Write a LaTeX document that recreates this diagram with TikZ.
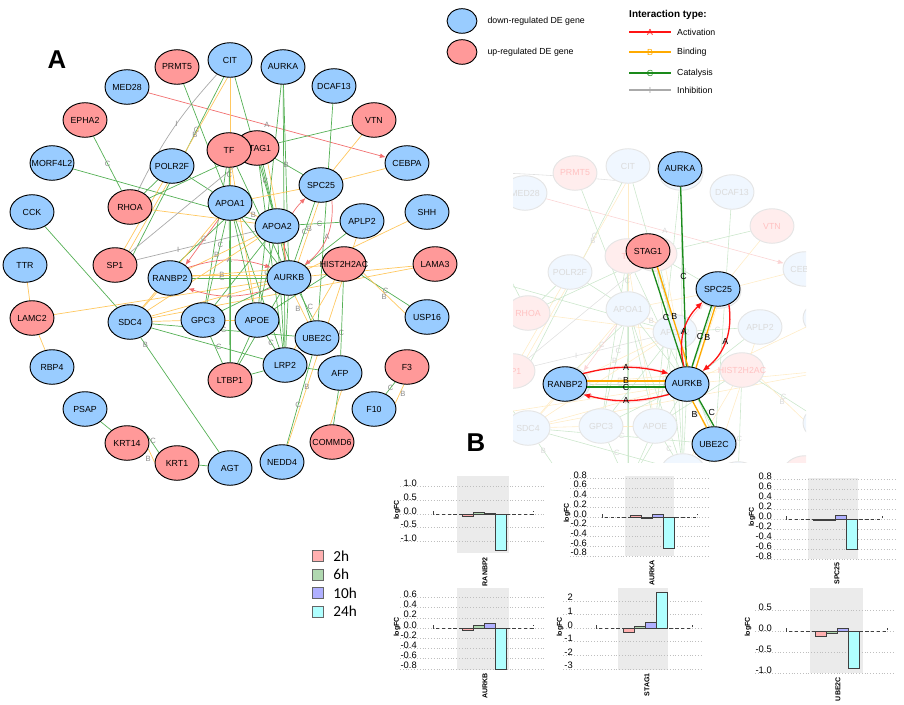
\documentclass[tikz,border=0pt]{standalone}
\usepackage{fontspec}
\setmainfont{Liberation Sans}
\newfontfamily\calibrifont{Carlito}
\usetikzlibrary{shapes.geometric, arrows.meta, positioning}

\definecolor{downblue}{HTML}{99CCFF}
\definecolor{uppink}{HTML}{FF9999}
\definecolor{actred}{HTML}{F27070}
\definecolor{bindorange}{HTML}{FFC860}
\definecolor{catgreen}{HTML}{55B055}
\definecolor{inhgray}{HTML}{AAAAAA}
\definecolor{subred}{HTML}{FF1414}
\definecolor{suborange}{HTML}{FFAA00}
\definecolor{subgreen}{HTML}{1A8A1A}
\definecolor{c2h}{HTML}{FFB0B0}
\definecolor{c6h}{HTML}{B0D8B0}
\definecolor{c10h}{HTML}{B0B0FF}
\definecolor{c24h}{HTML}{B0FFFF}
\definecolor{panelgray}{HTML}{EBEBEB}

\tikzset{
  gene/.style={ellipse, draw=black, line width=0.8pt, minimum width=37.5pt,
    minimum height=29.5pt, inner xsep=-12pt, inner ysep=0pt,
    font=\fontsize{7.5}{8}\selectfont},
  downgene/.style={gene, fill=downblue},
  upgene/.style={gene, fill=uppink},
  phantom/.style={draw=none, fill=none, text opacity=0},
  act/.style={draw=actred, line width=0.6pt, -{Latex[length=5pt, width=4pt]}},
  bind/.style={draw=bindorange, line width=0.6pt},
  cat/.style={draw=catgreen, line width=0.6pt},
  inh/.style={draw=inhgray, line width=0.6pt},
  elab/.style={font=\fontsize{6.5}{7}\selectfont, text=black!45, inner sep=0.3pt},
  sact/.style={draw=subred, line width=1.1pt, -{Latex[length=6pt, width=5pt]}},
  sbind/.style={draw=suborange, line width=1.1pt},
  scat/.style={draw=subgreen, line width=1.1pt},
  selab/.style={font=\fontsize{7.5}{8}\selectfont, text=black, inner sep=0.3pt},
  legtext/.style={font=\fontsize{7.5}{8}\selectfont, inner sep=0pt, anchor=west},
  panel/.style={font=\fontsize{22}{22}\selectfont\bfseries, inner sep=0pt},
  tbox/.style={draw=black!60, line width=0.5pt, minimum size=9.5pt, inner sep=0pt},
  tlab/.style={font=\calibrifont\fontsize{13}{13}\selectfont, inner sep=0pt},
  fcgrid/.style={draw=black!25, dotted, line width=0.4pt},
  fczero/.style={draw=black!75, densely dashed, line width=0.5pt},
  fcbar/.style={draw=black!75, line width=0.5pt},
  fctick/.style={anchor=base east, font=\fontsize{8}{8}\selectfont, inner sep=0pt},
  fcaxis/.style={rotate=90, font=\fontsize{6}{6}\selectfont\bfseries, inner sep=0pt},
  fcgene/.style={rotate=90, anchor=east, font=\fontsize{6}{6}\selectfont\bfseries, inner sep=0pt},
}

% all genes of the network, #1 = extra style
\newcommand{\genelayout}[1]{%
  \node[upgene,#1]   (PRMT5)   at (177,67)  {PRMT5};
  \node[downgene,#1] (CIT)     at (230,60)  {CIT};
  \node[downgene,#1] (AURKA)   at (283,67)  {AURKA};
  \node[downgene,#1] (MED28)   at (127,87)  {MED28};
  \node[downgene,#1] (DCAF13)  at (334,86)  {DCAF13};
  \node[upgene,#1]   (EPHA2)   at (85,120)  {EPHA2};
  \node[upgene,#1]   (VTN)     at (374,120) {VTN};
  \node[downgene,#1] (MORF4L2) at (52,163)  {MORF4L2};
  \node[downgene,#1] (POLR2F)  at (172,166) {POLR2F};
  \node[upgene,#1]   (STAG1)   at (257,148) {STAG1};
  \node[upgene,#1]   (TF)      at (229,150) {TF};
  \node[downgene,#1] (CEBPA)   at (407,163) {CEBPA};
  \node[downgene,#1] (CCK)     at (32,212)  {CCK};
  \node[upgene,#1]   (RHOA)    at (130,207) {RHOA};
  \node[downgene,#1] (APOA1)   at (230,203) {APOA1};
  \node[downgene,#1] (SPC25)   at (321,185) {SPC25};
  \node[downgene,#1] (APOA2)   at (277,226) {APOA2};
  \node[downgene,#1] (APLP2)   at (362,221) {APLP2};
  \node[downgene,#1] (SHH)     at (427,212) {SHH};
  \node[downgene,#1] (TTR)     at (25,265)  {TTR};
  \node[upgene,#1]   (SP1)     at (115,265) {SP1};
  \node[downgene,#1] (RANBP2)  at (170,278) {RANBP2};
  \node[downgene,#1] (AURKB)   at (289,278) {AURKB};
  \node[upgene,#1]   (HIST2H2AC) at (344,264) {HIST2H2AC};
  \node[upgene,#1]   (LAMA3)   at (435,264) {LAMA3};
  \node[upgene,#1]   (LAMC2)   at (32,318)  {LAMC2};
  \node[downgene,#1] (SDC4)    at (130,322) {SDC4};
  \node[downgene,#1] (GPC3)    at (203,320) {GPC3};
  \node[downgene,#1] (APOE)    at (257,320) {APOE};
  \node[downgene,#1] (USP16)   at (427,317) {USP16};
  \node[downgene,#1] (UBE2C)   at (317,338) {UBE2C};
  \node[downgene,#1] (LRP2)    at (285,365) {LRP2};
  \node[downgene,#1] (AFP)     at (340,373) {AFP};
  \node[upgene,#1]   (LTBP1)   at (230,380) {LTBP1};
  \node[upgene,#1]   (F3)      at (407,367) {F3};
  \node[downgene,#1] (RBP4)    at (52,367)  {RBP4};
  \node[downgene,#1] (PSAP)    at (85,409)  {PSAP};
  \node[downgene,#1] (F10)     at (374,409) {F10};
  \node[upgene,#1]   (COMMD6)  at (332,442) {COMMD6};
  \node[upgene,#1]   (KRT14)   at (127,443) {KRT14};
  \node[upgene,#1]   (KRT1)    at (177,463) {KRT1};
  \node[downgene,#1] (AGT)     at (230,468) {AGT};
  \node[downgene,#1] (NEDD4)   at (282,462) {NEDD4};
}

% all interactions of the network
\newcommand{\geneedges}{%
  % outer genes
  \draw[act] (MED28) -- node[elab]{A} (CEBPA);
  \draw[inh] (CIT) to[bend right=8] node[elab, pos=0.45]{I} (RHOA);
  \draw[cat] (CIT.250) -- node[elab, pos=0.3]{C} (SP1.30);
  \draw[bind] (CIT.262) -- node[elab, pos=0.33]{B} (SP1.45);
  \draw[cat] (CIT) -- (APOA2);
  \draw[bind] (CIT) -- (APOA1);
  \draw[cat] (PRMT5) -- (APOA1);
  \draw[cat] (EPHA2) -- node[elab]{C} (RHOA);
  \draw[cat] (MORF4L2) -- node[elab, pos=0.8]{C} (APOA2);
  \draw[cat] (CCK) -- (SDC4);
  \draw[cat] (POLR2F) -- (APOA1);
  \draw[cat] (POLR2F) -- (RHOA);
  \draw[bind] (POLR2F) -- (SP1);
  \draw[cat] (RHOA) -- (STAG1);
  \draw[bind] (RHOA) -- (APOA2);
  \draw[inh] (SP1) -- node[elab, pos=0.35]{I} (APOA2);
  \draw[inh] (SP1) -- (STAG1);
  \draw[bind] (TTR) -- (LAMC2);
  \draw[bind] (LAMC2) -- (RBP4);
  \draw[bind] (LAMC2) -- (AURKB);
  \draw[cat] (PSAP) -- (KRT14);
  \draw[cat] (KRT14.20) -- node[elab, above]{C} (KRT1.150);
  \draw[bind] (KRT14.-15) -- node[elab, below left]{B} (KRT1.178);
  \draw[cat] (KRT1) -- (AGT);
  \draw[cat] (SDC4) -- node[elab, pos=0.06]{B} (AGT);
  \draw[cat] (VTN) -- (STAG1);
  \draw[bind] (VTN) -- (SPC25);
  \draw[bind] (CEBPA) -- (SPC25);
  \draw[cat] (DCAF13) -- (UBE2C);
  \draw[cat] (AURKA) -- (AURKB);
  \draw[cat] (AURKA) -- (LRP2);
  \draw[cat] (AURKA) -- (APOE);
  \draw[bind] (SHH) -- (AURKB);
  \draw[bind] (LAMA3) -- (AURKB);
  \draw[bind] (LAMA3) -- (SDC4);
  \draw[cat] (USP16) -- node[elab]{C} (HIST2H2AC);
  \draw[bind] (USP16.170) -- node[elab, below]{B} (HIST2H2AC.-25);
  \draw[cat] (F3) -- node[elab]{C} (F10);
  \draw[bind] (F3.-100) -- node[elab, right]{B} (F10.15);
  \draw[cat] (AFP.-95) -- (COMMD6.85);
  \draw[bind] (AFP.-85) -- (COMMD6.95);
  \draw[cat] (AFP) -- node[elab, pos=0.3]{C} (HIST2H2AC);
  \draw[cat] (UBE2C) -- node[elab, pos=0.55]{C} (NEDD4);
  \draw[bind] (APLP2) -- node[elab, pos=0.72]{B} (NEDD4);
  % dense centre
  \draw[cat] (TF) -- node[elab, pos=0.4]{C} (APOA1);
  \draw[cat] (TF) -- (LTBP1);
  \draw[cat] (TF) -- (GPC3);
  \draw[cat] (TF) -- (AURKB);
  \draw[bind] (TF) -- (APOE);
  \draw[cat] (STAG1) -- node[elab, pos=0.4]{B} (SPC25);
  \draw[cat] (STAG1) -- node[elab, pos=0.35]{C} (APOA2);
  \draw[cat] (STAG1.-70) -- (AURKB);
  \draw[bind] (STAG1.-55) -- (AURKB);
  \draw[cat] (STAG1) -- (LRP2);
  \draw[cat] (APOA1) -- node[elab, pos=0.3]{C} (GPC3);
  \draw[cat] (APOA1) -- (APOE);
  \draw[cat] (APOA1) -- (LRP2);
  \draw[bind] (APOA1) -- node[elab]{B} (APOA2);
  \draw[cat] (APOA1.250) -- node[elab, pos=0.45]{C} (RANBP2.60);
  \draw[act] (APOA1.235) -- (RANBP2.40);
  \draw[bind] (APOA1) -- (SDC4);
  \draw[cat] (APOA1) -- (AURKB);
  \draw[bind] (APOA1) -- (SPC25);
  \draw[cat] (APOA2) -- (LRP2);
  \draw[cat] (APOA2) -- node[elab, pos=0.4]{C} (UBE2C);
  \draw[cat] (APOA2) -- (GPC3);
  \draw[bind] (APOA2) -- node[elab, pos=0.6]{B} (RANBP2);
  \draw[cat] (APOA2) -- node[elab]{C} (APOE);
  \draw[cat] (APLP2) -- node[elab]{C} (APOA2);
  \draw[cat] (APLP2) -- (AURKB);
  \draw[cat] (RANBP2) -- node[elab, pos=0.4]{C} (AURKB);
  \draw[bind] (RANBP2.8) -- node[elab, pos=0.4]{B} (AURKB.172);
  \draw[act] (RANBP2.30) to[bend left=18] node[elab]{A} (AURKB.150);
  \draw[act] (AURKB.-150) to[bend left=18] node[elab]{A} (RANBP2.-30);
  \draw[cat] (SPC25.-110) -- node[elab, pos=0.5]{C} (AURKB.72);
  \draw[bind] (SPC25.-98) -- node[elab, pos=0.45]{B} (AURKB.60);
  \draw[act] (AURKB.100) to[bend left=28] (SPC25.-140);
  \draw[act] (SPC25.-55) to[bend left=28] node[elab]{A} (AURKB.40);
  \draw[cat] (AURKB.-55) -- node[elab, right]{C} (UBE2C.100);
  \draw[bind] (AURKB.-72) -- node[elab, left]{B} (UBE2C.120);
  \draw[cat] (GPC3) -- (AURKB);
  \draw[cat] (GPC3) -- (LTBP1);
  \draw[bind] (GPC3) -- (APOE);
  \draw[cat] (APOE) -- (LTBP1);
  \draw[cat] (APOE) -- node[elab]{C} (LRP2);
  \draw[cat] (LTBP1) -- (LRP2);
  \draw[cat] (LTBP1) -- (AURKB);
  \draw[cat] (LTBP1) -- (APOA1);
  \draw[cat] (LRP2) -- (AURKB);
  \draw[cat] (LRP2) -- (AFP);
  \draw[bind] (LRP2) -- (HIST2H2AC);
  \draw[cat] (HIST2H2AC) -- (APOE);
  \draw[bind] (HIST2H2AC) -- (RANBP2);
  \draw[cat] (SDC4) -- node[elab, pos=0.6]{C} (LRP2);
  \draw[cat] (SDC4) -- node[elab, pos=0.5]{C} (UBE2C);
  \draw[bind] (SDC4) -- (RANBP2);
  \draw[bind] (SDC4) -- (GPC3);
  \draw[bind] (SDC4) -- (APOA2);
  \draw[bind] (SDC4) -- (AURKB);
}

% four logFC bars (2h, 6h, 10h, 24h), heights in pixels
\newcommand{\fcbars}[4]{%
  \foreach \h/\c [count=\i from 0] in {#1/c2h, #2/c6h, #3/c10h, #4/c24h}
    \draw[fcbar, fill=\c] ({5+11*\i},0) rectangle ({16+11*\i},\h);
}
\newcommand{\fczeroline}[2]{\draw[fczero] (#1,-3) -- (#1,0) -- (#2,0) -- (#2,-3);}

\begin{document}
\begin{tikzpicture}[x=0.03cm, y=-0.03cm]
\useasboundingbox (0,0) rectangle (904,704);

% panel letters
\node[panel] (labA) at (57,60) {A};
\node[panel] (labB) at (476,443) {B};

% gene legend
\node[gene, fill=downblue, minimum width=25.5pt, minimum height=21pt] (legDown) at (462,21) {};
\node[gene, fill=uppink, minimum width=25.5pt, minimum height=21pt] (legUp) at (462,52) {};
\node[legtext, right=8.5pt of legDown] (legDownText) {down-regulated DE gene};
\node[legtext, right=8.5pt of legUp] (legUpText) {up-regulated DE gene};

% interaction legend
\node[legtext, font=\fontsize{8.5}{9}\selectfont\bfseries] (legTitle) at (629,15) {Interaction type:};
\foreach \col/\lt/\name/\yy in {subred/A/Activation/32, suborange/B/Binding/52,
    subgreen/C/Catalysis/73, inhgray/I/Inhibition/90}{
  \draw[\col, line width=0.9pt] (629,\yy) -- node[selab, text=\col]{\lt} (671,\yy);
  \node[legtext] (leg\name) at (677,\yy) {\name};
}

% time legend
\foreach \c/\t [count=\k from 0] in {c2h/2h, c6h/6h, c10h/10h, c24h/24h}{
  \node[tbox, fill=\c] (sq\t) at (318,{556+18.5*\k}) {};
  \node[tlab, anchor=west, right=8pt of sq\t] (lab\t) {\t};
}

% network A
\genelayout{phantom}
\geneedges
\genelayout{}

% faded copy of the network behind the zoomed part
\begin{scope}
  \clip (513,142) rectangle (806,462);
  \begin{scope}[shift={(398,106)}, name prefix=g,
      cat/.style={draw=catgreen!30, line width=0.5pt},
      bind/.style={draw=bindorange!35, line width=0.5pt},
      inh/.style={draw=inhgray!35, line width=0.5pt},
      act/.style={draw=actred!30, line width=0.5pt, -{Latex[length=5pt, width=4pt]}},
      elab/.style={font=\fontsize{6.5}{7}\selectfont, text=black!15, inner sep=0.3pt},
      downgene/.append style={fill=downblue!15, draw=black!10, text=black!14},
      upgene/.append style={fill=uppink!18, draw=black!10, text=uppink!60}]
    \genelayout{phantom}
    \geneedges
    \genelayout{}
  \end{scope}
\end{scope}

% zoomed sub-network
\node[downgene] (sAURKA) at (680,169) {AURKA};
\node[upgene] (sSTAG1) at (648,251) {STAG1};
\node[downgene] (sSPC25) at (718,289) {SPC25};
\node[downgene] (sRANBP2) at (565,384) {RANBP2};
\node[downgene] (sAURKB) at (687,384) {AURKB};
\node[downgene] (sUBE2C) at (714,444) {UBE2C};

\draw[scat] (sAURKA) -- node[selab, pos=0.5]{C} (sAURKB);
\draw[scat] (sSTAG1.-77) -- node[selab, pos=0.5, xshift=-1.5pt]{C} (sAURKB.101);
\draw[sbind] (sSTAG1.-60) -- node[selab, pos=0.5, xshift=1.5pt]{B} (sAURKB.87);
\draw[scat] (sAURKB.74) -- node[selab, pos=0.5, xshift=-1.5pt]{C} (sSPC25.-111);
\draw[sbind] (sAURKB.61) -- node[selab, pos=0.5, xshift=1.5pt]{B} (sSPC25.-99);
\draw[sact] (sAURKB.100) to[bend left=30] node[selab]{A} (sSPC25.-140);
\draw[sact] (sSPC25.-55) to[bend left=30] node[selab]{A} (sAURKB.40);
\draw[sact] (sRANBP2.30) to[bend left=14] node[selab]{A} (sAURKB.150);
\draw[sact] (sAURKB.-150) to[bend left=14] node[selab]{A} (sRANBP2.-30);
\draw[sbind] (sRANBP2.8) -- node[selab]{B} (sAURKB.172);
\draw[scat] (sRANBP2.-8) -- node[selab]{C} (sAURKB.188);
\draw[sbind] (sAURKB.-72) -- node[selab, left=1pt]{B} (sUBE2C.114);
\draw[scat] (sAURKB.-52) -- node[selab, right=1pt]{C} (sUBE2C.90);

% logFC bar charts
\begin{scope}[shift={(457,514)}]
  \fill[panelgray] (0,-38) rectangle (52,39);
  \foreach \yy/\lab in {-27.4/1.0, -13.7/0.5, 0/0.0, 13.7/-0.5, 27.4/-1.0}{
    \draw[fcgrid] (-57,\yy) -- (88,\yy);
    \node[fctick] at (-40,\yy) {\lab};
  }
  \fczeroline{-24}{76}
  \fcbars{2}{-2}{-1}{36}
  \node[fcaxis] (yRANBP2) at (-60,-4) {logFC};
  \node[fcgene] (xRANBP2) at (28,43) {RANBP2};
\end{scope}

\begin{scope}[shift={(625,517)}]
  \fill[panelgray] (0,-41) rectangle (49,39);
  \foreach \yy/\lab in {-38.8/0.8, -29.1/0.6, -19.4/0.4, -9.7/0.2, 0/0.0,
      9.7/-0.2, 19.4/-0.4, 29.1/-0.6, 38.8/-0.8}{
    \draw[fcgrid] (-55,\yy) -- (85,\yy);
    \node[fctick] at (-38,\yy) {\lab};
  }
  \fczeroline{-23}{72}
  \fcbars{-2}{1}{-3}{31}
  \node[fcaxis] (yAURKA) at (-58,-4) {logFC};
  \node[fcgene] (xAURKA) at (27,43) {AURKA};
\end{scope}

\begin{scope}[shift={(808,519)}]
  \fill[panelgray] (0,-41) rectangle (50,40);
  \foreach \yy/\lab in {-40/0.8, -30/0.6, -20/0.4, -10/0.2, 0/0.0,
      10/-0.2, 20/-0.4, 30/-0.6, 40/-0.8}{
    \draw[fcgrid] (-48,\yy) -- (87,\yy);
    \node[fctick] at (-36,\yy) {\lab};
  }
  \fczeroline{-22}{74}
  \fcbars{1.5}{1.5}{-4}{30}
  \node[fcaxis] (ySPC25) at (-56,-2) {logFC};
  \node[fcgene] (xSPC25) at (29,43) {SPC25};
\end{scope}

\begin{scope}[shift={(457,628)}]
  \fill[panelgray] (0,-40) rectangle (52,42);
  \foreach \yy/\lab in {-30.6/0.6, -20.4/0.4, -10.2/0.2, 0/0.0, 10.2/-0.2,
      20.4/-0.4, 30.6/-0.6, 40.8/-0.8}{
    \draw[fcgrid] (-57,\yy) -- (88,\yy);
    \node[fctick] at (-40,\yy) {\lab};
  }
  \fczeroline{-24}{76}
  \fcbars{2}{-3}{-5}{41}
  \node[fcaxis] (yAURKB) at (-60,-1) {logFC};
  \node[fcgene] (xAURKB) at (28,45) {AURKB};
\end{scope}

\begin{scope}[shift={(618,628)}]
  \fill[panelgray] (0,-40) rectangle (50,42);
  \foreach \yy/\lab in {-27.2/2, -13.6/1, 0/0, 13.6/-1, 27.2/-2, 40.8/-3}{
    \draw[fcgrid] (-55,\yy) -- (85,\yy);
    \node[fctick] at (-45,\yy) {\lab};
  }
  \fczeroline{-22}{74}
  \fcbars{4}{-1.5}{-6}{-36}
  \node[fcaxis] (ySTAG1) at (-58,-1) {logFC};
  \node[fcgene] (xSTAG1) at (29,45) {STAG1};
\end{scope}

\begin{scope}[shift={(810,631)}]
  \fill[panelgray] (0,-43) rectangle (53,42);
  \foreach \yy/\lab in {-21/0.5, 0/0.0, 21/-0.5, 42/-1.0}{
    \draw[fcgrid] (-55,\yy) -- (85,\yy);
    \node[fctick] at (-38,\yy) {\lab};
  }
  \fczeroline{-24}{77}
  \fcbars{5}{2}{-3}{37}
  \node[fcaxis] (yUBE2C) at (-62,-4) {logFC};
  \node[fcgene] (xUBE2C) at (28,46) {UBE2C};
\end{scope}
\end{tikzpicture}
\end{document}
